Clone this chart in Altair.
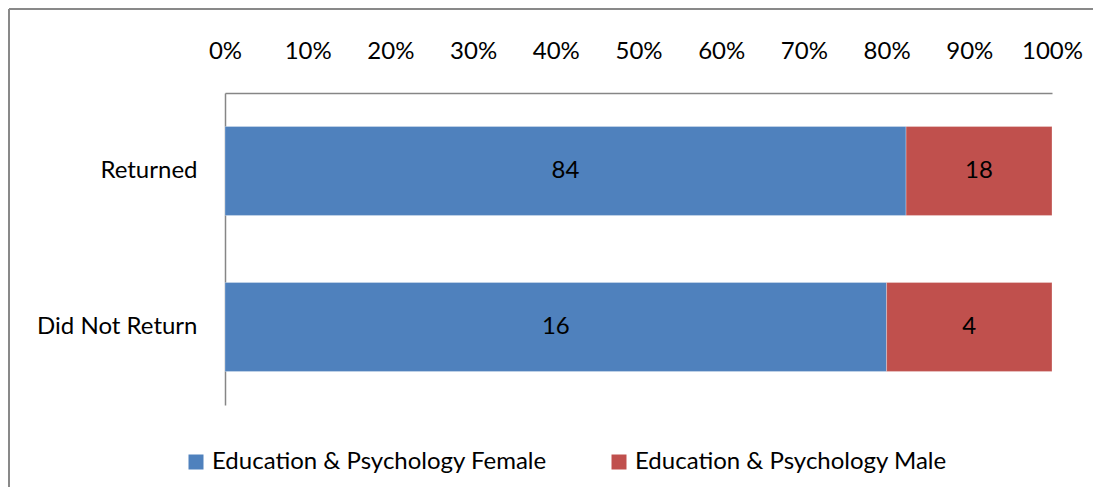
import altair as alt
import pandas as pd

categories = ["Returned", "Returned", "Did Not Return", "Did Not Return"]
series = ["Education & Psychology Female", "Education & Psychology Male",
          "Education & Psychology Female", "Education & Psychology Male"]
values = [84, 18, 16, 4]
cat_order = ["Returned", "Did Not Return"]
series_order = ["Education & Psychology Female", "Education & Psychology Male"]
colors = ["#4F81BD", "#C0504D"]

df = pd.DataFrame({"cat": categories, "series": series, "value": values})
df["s_idx"] = [series_order.index(s) for s in df["series"]]

FONT = "Lato"
FS = 24
W, H = 827, 312

base = alt.Chart(df).transform_joinaggregate(
    total="sum(value)", groupby=["cat"]
).transform_window(
    cum="sum(value)", groupby=["cat"], sort=[alt.SortField("s_idx", order="ascending")],
    frame=[None, 0]
).transform_calculate(
    x0="(datum.cum - datum.value) / datum.total",
    x1="datum.cum / datum.total",
    xm="(datum.cum - datum.value / 2) / datum.total",
)

yenc = alt.Y("cat:N", sort=cat_order, title=None,
             scale=alt.Scale(paddingInner=0.43, paddingOuter=0.215),
             axis=alt.Axis(ticks=False, labelPadding=28, domainColor="#868686",
                           domainWidth=1.5, labelFont=FONT, labelFontSize=FS,
                           labelColor="#000000"))

bars = base.mark_bar(stroke="#ffffff", strokeOpacity=0.35, strokeWidth=0.8).encode(
    x=alt.X("x0:Q", title=None,
            scale=alt.Scale(domain=[0, 1], nice=False),
            axis=alt.Axis(orient="top", format="%", values=[i / 10 for i in range(11)],
                          ticks=False, grid=False, labelPadding=30,
                          domainColor="#868686", domainWidth=1.5,
                          labelFont=FONT, labelFontSize=FS, labelColor="#000000",
                          labelFlush=False)),
    x2="x1:Q",
    y=yenc,
    color=alt.Color("series:N", sort=series_order,
                    scale=alt.Scale(domain=series_order, range=colors),
                    legend=alt.Legend(title=None, orient="none", direction="horizontal",
                                      legendX=-41, legendY=357,
                                      symbolType="square", symbolSize=225,
                                      symbolStrokeWidth=0, labelOffset=4,
                                      columnPadding=60, labelFont=FONT,
                                      labelFontSize=FS, labelColor="#000000",
                                      labelLimit=600)),
)

labels = base.mark_text(font=FONT, fontSize=FS, color="#000000", baseline="middle").encode(
    x=alt.X("xm:Q"),
    y=alt.Y("cat:N", sort=cat_order),
    text=alt.Text("value:Q"),
)

frame_left = alt.Chart(df).mark_rule(color="#898989", strokeWidth=2).encode(
    x=alt.value(-216), y=alt.value(-84), y2=alt.value(420)
)
frame_top = alt.Chart(df).mark_rule(color="#898989", strokeWidth=2).encode(
    x=alt.value(-216), x2=alt.value(900), y=alt.value(-84)
)

chart = alt.layer(bars, labels, frame_left, frame_top).properties(
    width=W, height=H,
    background="#ffffff",
    autosize=alt.AutoSizeParams(type="none"),
    padding={"left": 217, "top": 85, "right": 41, "bottom": 82},
).configure_view(strokeWidth=0, stroke="transparent")

chart.save("out.html", embed_options={"renderer": "svg", "actions": False})
